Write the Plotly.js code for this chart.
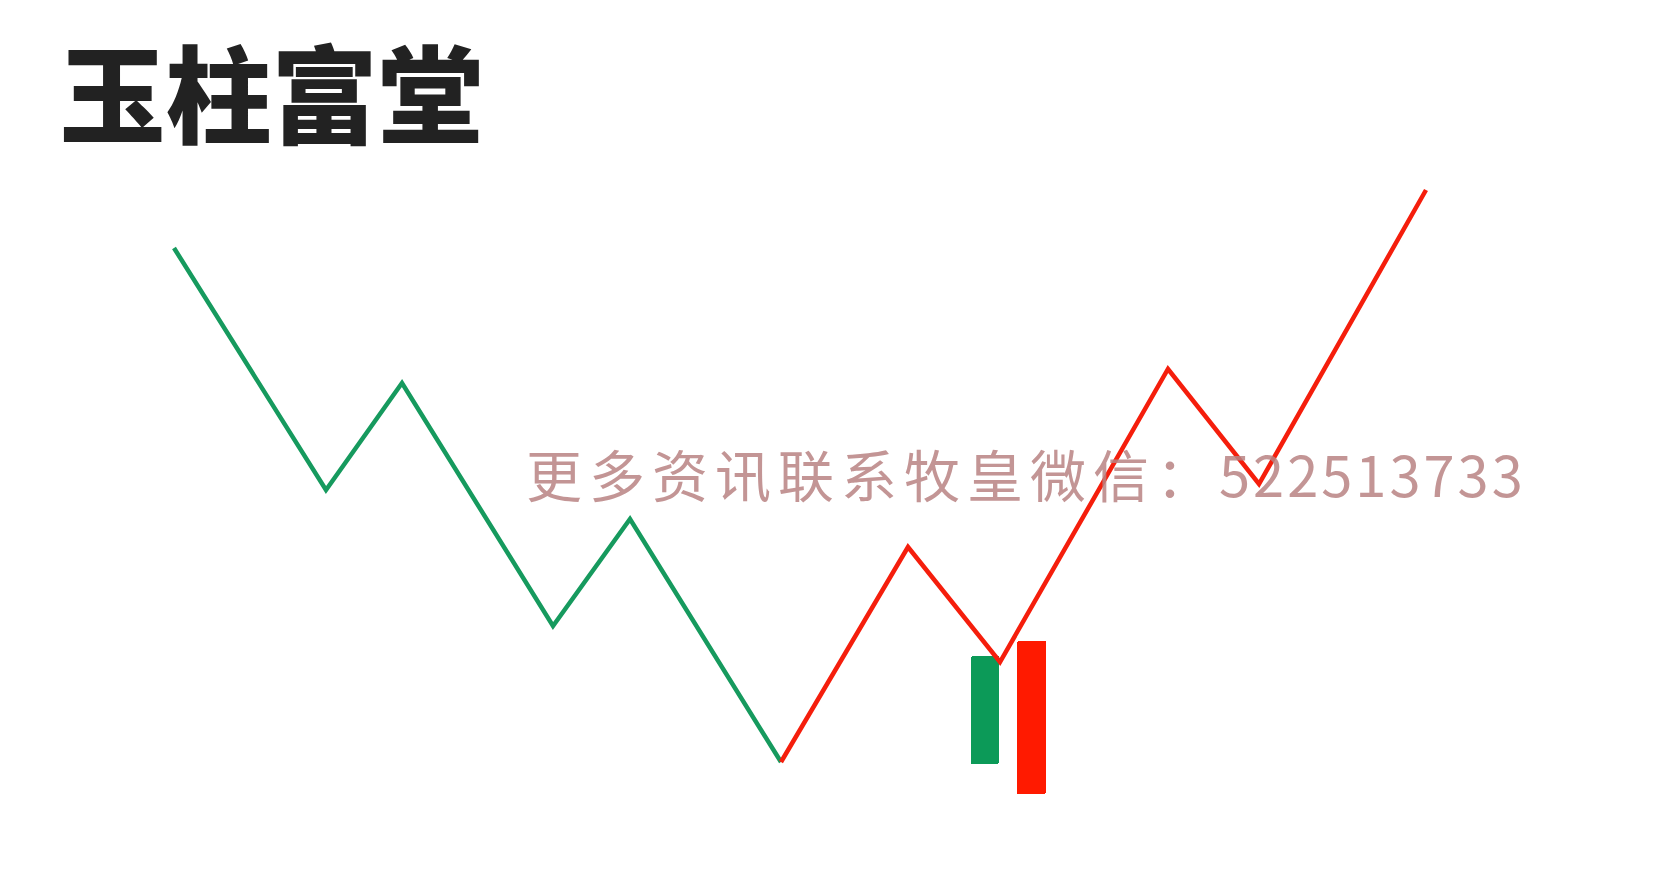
<!DOCTYPE html>
<html>
<head>
<meta charset="utf-8">
<script src="https://cdn.plot.ly/plotly-3.0.1.min.js"></script>
<style>html,body{margin:0;padding:0;background:#fff;}#chart{width:1656px;height:874px;}</style>
</head>
<body>
<div id="chart"></div>
<script>
// Downtrend (green) zig-zag
const downX = [174, 326, 402, 553, 630, 781];
const downY = [626, 384, 491, 248, 355, 112];
// Uptrend (red) zig-zag
const upX = [781, 908, 1000, 1168, 1259, 1426];
const upY = [112, 327, 212, 505, 390, 684];
// Two candles: bearish then bullish
const candleX = [985, 1031.5];
const candleLow = [110, 80];
const candleHigh = [218, 233];
const candleColors = ['#0c9a58', '#ff1a00'];
const candleWidth = [28, 29];
const titleText = '玉柱富堂';
const watermarkCN = '更多资讯联系牧皇微信：';
const watermarkNum = '522513733';

const traces = [
  {
    type: 'bar',
    x: candleX,
    base: candleLow,
    y: candleHigh.map((h, i) => h - candleLow[i]),
    width: candleWidth,
    marker: {color: candleColors, line: {width: 0}, cornerradius: 2},
    hoverinfo: 'skip',
    showlegend: false
  },
  {
    type: 'scatter', mode: 'lines',
    x: downX, y: downY,
    line: {color: '#169a5e', width: 4.5},
    hoverinfo: 'skip', showlegend: false
  },
  {
    type: 'scatter', mode: 'lines',
    x: upX, y: upY,
    line: {color: '#f51e0c', width: 4.5},
    hoverinfo: 'skip', showlegend: false
  }
];

const layout = {
  width: 1656, height: 874,
  margin: {l: 0, r: 0, t: 0, b: 0},
  paper_bgcolor: '#ffffff',
  plot_bgcolor: '#ffffff',
  xaxis: {range: [0, 1656], visible: false, fixedrange: true},
  yaxis: {range: [0, 874], visible: false, fixedrange: true},
  title: {
    text: titleText,
    x: 0.036, xanchor: 'left', xref: 'container',
    y: 0.888, yanchor: 'middle', yref: 'container',
    font: {family: '"Noto Sans CJK SC", sans-serif', size: 106, weight: 900, color: '#222222'}
  },
  annotations: [{
    text: '<span style="letter-spacing:7px">' + watermarkCN + '</span>' +
          '<span style="letter-spacing:3px">' + watermarkNum + '</span>',
    xref: 'paper', yref: 'paper',
    x: 524 / 1656, y: 1 - 472 / 874,
    xanchor: 'left', yanchor: 'middle',
    showarrow: false,
    font: {family: '"Noto Sans CJK SC", sans-serif', size: 56, color: 'rgba(185,130,130,0.85)'}
  }],
  bargap: 0
};

Plotly.newPlot('chart', traces, layout, {staticPlot: true, displayModeBar: false});
</script>
</body>
</html>
